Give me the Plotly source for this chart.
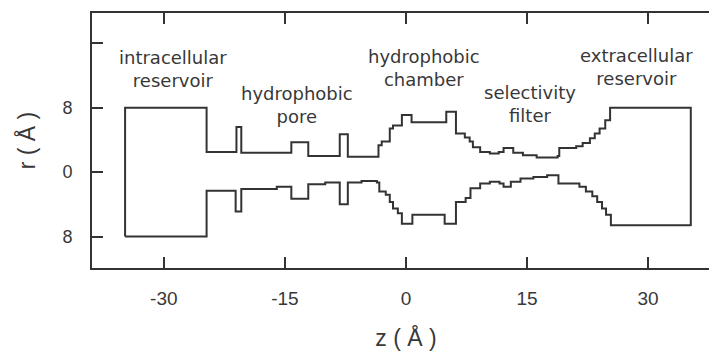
import plotly.graph_objects as go

# Upper wall of the pore profile (z in Å, r in Å), step-wise (value holds until next z)
z_upper = [-34.8, -34.8, -24.7, -24.7, -21.0, -20.4, -14.2, -12.1, -8.2, -7.2,
           -3.4, -3.0, -2.0, -1.6, -0.5, 0.7, 5.0, 6.2, 7.3, 7.9, 8.3, 9.2, 10.4,
           11.5, 12.1, 13.3, 14.5, 16.2, 18.8, 19.0, 21.1, 21.9, 22.8, 23.4, 24.0,
           24.7, 25.3, 35.3, 35.3]
r_upper = [-8.0, 8.0, 8.0, 2.5, 5.6, 2.4, 3.7, 2.0, 4.7, 1.9,
           3.35, 3.8, 5.4, 5.8, 7.1, 6.2, 7.5, 4.8, 4.3, 3.8, 3.1, 2.5, 2.3,
           2.5, 3.0, 2.4, 2.1, 1.8, 2.0, 3.0, 3.2, 3.6, 4.2, 4.8, 5.4,
           6.45, 8.0, 8.0, -6.7]

# Lower wall of the pore profile
z_lower = [-34.8, -24.7, -21.1, -20.4, -16.0, -14.2, -12.1, -10.0, -8.2, -7.2,
           -5.5, -3.6, -3.3, -2.5, -2.0, -1.6, -1.0, -0.5, 0.8, 4.8, 6.2, 7.4,
           8.0, 9.2, 10.4, 11.6, 12.1, 13.0, 14.2, 15.8, 17.5, 18.9, 21.5, 22.3,
           23.1, 23.7, 24.3, 24.8, 25.4, 35.3]
r_lower = [-8.0, -2.3, -4.9, -2.1, -1.8, -3.3, -1.5, -1.3, -4.0, -1.3,
           -1.1, -1.3, -2.4, -2.8, -3.7, -4.5, -5.1, -6.4, -5.3, -6.4, -3.7, -3.2,
           -2.0, -1.4, -1.2, -1.4, -1.8, -1.2, -0.8, -0.6, -0.4, -1.4, -1.8, -2.4,
           -3.0, -3.7, -4.5, -5.3, -6.6, -6.6]

# Region labels
label_text = ["intracellular<br>reservoir", "hydrophobic<br>pore", "hydrophobic<br>chamber",
              "selectivity<br>filter", "extracellular<br>reservoir"]
label_z = [-28.9, -13.5, 2.2, 15.4, 28.6]
label_r = [12.8, 8.3, 12.9, 8.5, 13.0]

# Ticks
x_tickvals = [-30, -15, 0, 15, 30]
x_ticktext = ["-30", "-15", "0", "15", "30"]
y_tickvals = [-8, 0, 8, 16]
y_ticktext = ["8", "0", "8", ""]

LINE = "#333333"
TEXT = "#383838"
FONT = "Liberation Sans, Arial, sans-serif"
LABEL_FONT = "DejaVu Sans, sans-serif"

fig = go.Figure()
fig.add_trace(go.Scatter(x=z_upper, y=r_upper, mode="lines", line_shape="hv",
                         line=dict(color=LINE, width=2), showlegend=False, hoverinfo="skip"))
fig.add_trace(go.Scatter(x=z_lower, y=r_lower, mode="lines", line_shape="hv",
                         line=dict(color=LINE, width=2), showlegend=False, hoverinfo="skip"))

for t, zx, ry in zip(label_text, label_z, label_r):
    fig.add_annotation(x=zx, y=ry, text=t, showarrow=False,
                       font=dict(family=LABEL_FONT, size=18, color=TEXT), align="center")

fig.update_layout(
    width=717, height=352,
    margin=dict(l=84, r=5, t=5, b=92),
    paper_bgcolor="white", plot_bgcolor="white",
    font=dict(family=FONT, color=TEXT),
    xaxis=dict(range=[-38.9, 38.92], tickvals=x_tickvals, ticktext=x_ticktext,
               ticks="inside", ticklen=11, tickwidth=1.5, tickcolor=LINE,
               showline=True, linecolor=LINE, linewidth=2, mirror="ticks",
               showgrid=False, zeroline=False, automargin=False,
               tickfont=dict(family=FONT, size=19, color=TEXT), ticklabelstandoff=12,
               title=dict(text="z ( Å )", font=dict(family=FONT, size=23, color=TEXT), standoff=22)),
    yaxis=dict(range=[-11.9, 19.75], tickvals=y_tickvals, ticktext=y_ticktext,
               ticks="inside", ticklen=11, tickwidth=1.5, tickcolor=LINE,
               showline=True, linecolor=LINE, linewidth=2, mirror=False,
               showgrid=False, zeroline=False, automargin=False,
               tickfont=dict(family=FONT, size=18, color=TEXT), ticklabelstandoff=14,
               title=dict(text="r ( Å )", font=dict(family=FONT, size=23, color=TEXT), standoff=20)),
    yaxis2=dict(range=[-11.9, 19.75], overlaying="y", side="right", tickvals=y_tickvals,
                ticks="inside", ticklen=11, tickwidth=1.5, tickcolor=LINE, automargin=False,
                showticklabels=False, showline=False, showgrid=False, zeroline=False),
)

fig.write_html("out.html")
